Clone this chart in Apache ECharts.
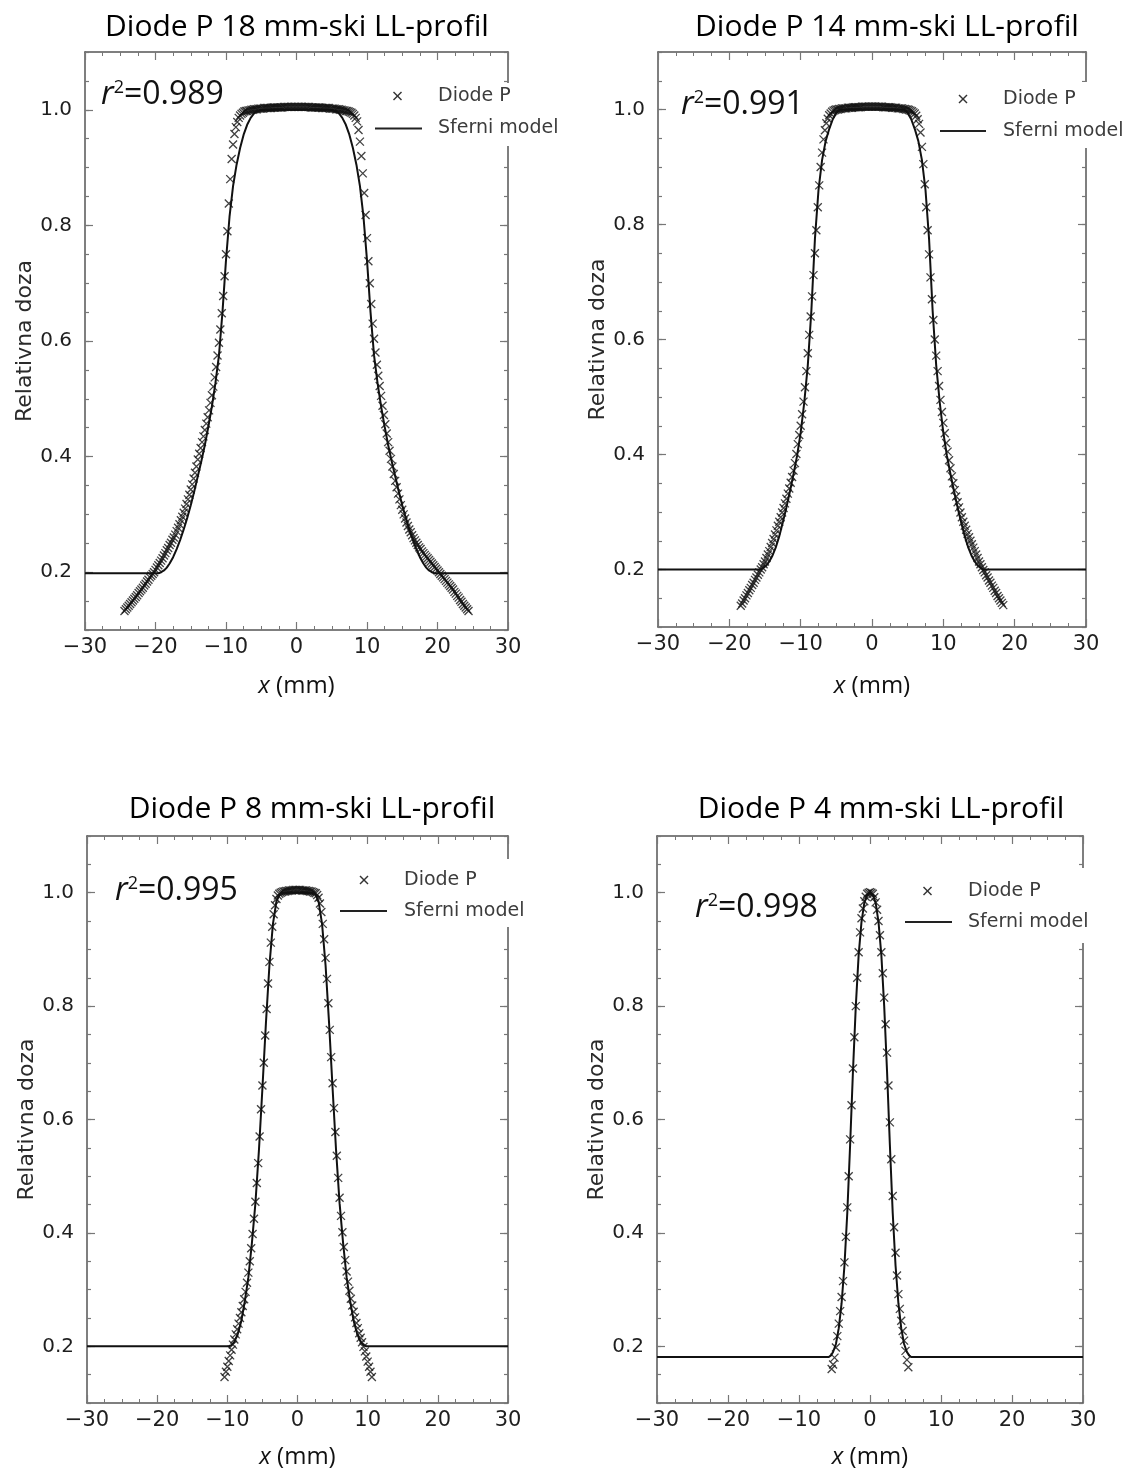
<!DOCTYPE html>
<html><head><meta charset="utf-8">
<script src="https://cdn.jsdelivr.net/npm/echarts@6/dist/echarts.min.js"></script>
<style>html,body{margin:0;padding:0;background:#fff}#c{width:1126px;height:1470px}</style>
</head><body><div id="c"></div>
<script>
// ---------- data ----------
const panelTitles = ['Diode P 18 mm-ski LL-profil','Diode P 14 mm-ski LL-profil','Diode P 8 mm-ski LL-profil','Diode P 4 mm-ski LL-profil'];
const r2Values = ['0.989','0.991','0.995','0.998'];
const seriesNames = ['Diode P','Sferni model'];
const yMajorTicks = [0.2,0.4,0.6,0.8,1.0];

const diode18 = [[-24.4,0.133],[-24.2,0.136],[-24.0,0.139],[-23.8,0.142],[-23.6,0.145],[-23.4,0.148],[-23.2,0.151],[-23.0,0.154],[-22.8,0.157],[-22.6,0.160],[-22.4,0.164],[-22.2,0.167],[-22.0,0.170],[-21.8,0.173],[-21.6,0.177],[-21.4,0.180],[-21.2,0.184],[-21.0,0.187],[-20.8,0.191],[-20.6,0.194],[-20.4,0.197],[-20.2,0.200],[-20.0,0.204],[-19.8,0.208],[-19.6,0.212],[-19.4,0.216],[-19.2,0.220],[-19.0,0.224],[-18.8,0.229],[-18.6,0.233],[-18.4,0.238],[-18.2,0.242],[-18.0,0.247],[-17.8,0.251],[-17.6,0.256],[-17.4,0.260],[-17.2,0.265],[-17.0,0.271],[-16.8,0.277],[-16.6,0.283],[-16.4,0.290],[-16.2,0.296],[-16.0,0.303],[-15.8,0.310],[-15.6,0.318],[-15.4,0.326],[-15.2,0.334],[-15.0,0.343],[-14.8,0.352],[-14.6,0.362],[-14.4,0.372],[-14.2,0.383],[-14.0,0.395],[-13.8,0.405],[-13.6,0.415],[-13.4,0.425],[-13.2,0.435],[-13.0,0.446],[-12.8,0.457],[-12.6,0.468],[-12.4,0.480],[-12.2,0.493],[-12.0,0.506],[-11.8,0.521],[-11.6,0.537],[-11.4,0.555],[-11.2,0.575],[-11.0,0.597],[-10.8,0.620],[-10.6,0.648],[-10.4,0.678],[-10.2,0.712],[-10.0,0.750],[-9.8,0.790],[-9.6,0.838],[-9.4,0.880],[-9.2,0.915],[-9.0,0.940],[-8.8,0.958],[-8.6,0.970],[-8.4,0.979],[-8.2,0.986],[-8.0,0.990],[-7.8,0.993],[-7.6,0.995],[-7.4,0.997],[-7.2,0.998],
[-7.0,0.998],[-6.8,0.999],[-6.6,0.999],[-6.4,1.000],[-6.2,1.000],[-6.0,1.001],[-5.8,1.001],[-5.6,1.001],[-5.4,1.002],[-5.2,1.002],[-5.0,1.002],[-4.8,1.002],[-4.6,1.003],[-4.4,1.003],[-4.2,1.003],[-4.0,1.003],[-3.8,1.003],[-3.6,1.003],[-3.4,1.004],[-3.2,1.004],[-3.0,1.004],[-2.8,1.004],[-2.6,1.004],[-2.4,1.004],[-2.2,1.004],[-2.0,1.004],[-1.8,1.005],[-1.6,1.005],[-1.4,1.005],[-1.2,1.005],[-1.0,1.005],[-0.8,1.005],[-0.6,1.005],[-0.4,1.005],[-0.2,1.005],[0.0,1.005],[0.2,1.005],[0.4,1.005],[0.6,1.005],[0.8,1.005],[1.0,1.005],[1.2,1.005],[1.4,1.005],[1.6,1.005],[1.8,1.005],[2.0,1.004],[2.2,1.004],[2.4,1.004],[2.6,1.004],[2.8,1.004],[3.0,1.004],[3.2,1.004],[3.4,1.004],[3.6,1.003],[3.8,1.003],[4.0,1.003],[4.2,1.003],[4.4,1.003],[4.6,1.003],[4.8,1.002],[5.0,1.002],[5.2,1.002],[5.4,1.002],[5.6,1.001],[5.8,1.001],[6.0,1.001],[6.2,1.000],[6.4,1.000],[6.6,0.999],[6.8,0.999],[7.0,0.998],
[7.2,0.998],[7.4,0.997],[7.6,0.996],[7.8,0.995],[8.0,0.993],[8.2,0.990],[8.4,0.986],[8.6,0.980],[8.8,0.965],[9.0,0.945],[9.2,0.920],[9.4,0.890],[9.6,0.856],[9.8,0.818],[10.0,0.778],[10.2,0.738],[10.4,0.700],[10.6,0.664],[10.8,0.630],[11.0,0.604],[11.2,0.580],[11.4,0.559],[11.6,0.540],[11.8,0.522],[12.0,0.505],[12.2,0.488],[12.4,0.472],[12.6,0.456],[12.8,0.440],[13.0,0.425],[13.2,0.410],[13.4,0.396],[13.6,0.383],[13.8,0.370],[14.0,0.358],[14.2,0.347],[14.4,0.336],[14.6,0.326],[14.8,0.316],[15.0,0.308],[15.2,0.300],[15.4,0.293],[15.6,0.286],[15.8,0.280],[16.0,0.274],[16.2,0.269],[16.4,0.264],[16.6,0.259],[16.8,0.255],[17.0,0.251],[17.2,0.247],[17.4,0.243],[17.6,0.240],[17.8,0.236],[18.0,0.233],[18.2,0.230],[18.4,0.227],[18.6,0.224],[18.8,0.221],[19.0,0.218],[19.2,0.215],[19.4,0.212],[19.6,0.209],[19.8,0.206],[20.0,0.203],[20.2,0.200],[20.4,0.197],[20.6,0.194],[20.8,0.191],[21.0,0.188],[21.2,0.185],[21.4,0.182],[21.6,0.179],[21.8,0.176],[22.0,0.173],[22.2,0.170],[22.4,0.166],[22.6,0.163],[22.8,0.159],[23.0,0.156],[23.2,0.152],[23.4,0.149],[23.6,0.145],[23.8,0.142],[24.0,0.139],[24.2,0.136],[24.4,0.133]];

const model18 = [[-30,0.198],[-19.6,0.198],[-19.2,0.200],[-18.8,0.203],[-18.4,0.208],[-18.0,0.215],[-17.5,0.226],[-17.0,0.240],[-16.5,0.256],[-16.0,0.274],[-15.5,0.294],[-15.0,0.316],[-14.5,0.340],[-14.0,0.366],[-13.5,0.392],[-13.0,0.420],[-12.5,0.452],[-12.0,0.487],[-11.5,0.527],[-11.0,0.575],[-10.5,0.650],[-10.0,0.740],[-9.5,0.815],[-9.0,0.868],[-8.5,0.905],[-8.0,0.934],[-7.5,0.957],[-7.0,0.974],[-6.5,0.986],[-6.0,0.994],[-5.5,0.998],[-5.0,1.000],[5.0,1.000],[5.5,0.998],[6.0,0.994],[6.5,0.986],[7.0,0.974],[7.5,0.957],[8.0,0.934],[8.5,0.905],[9.0,0.868],[9.5,0.815],[10.0,0.740],[10.5,0.650],[11.0,0.575],[11.5,0.527],[12.0,0.487],[12.5,0.452],[13.0,0.420],[13.5,0.392],[14.0,0.366],[14.5,0.340],[15.0,0.316],[15.5,0.294],[16.0,0.274],[16.5,0.256],[17.0,0.240],[17.5,0.226],[18.0,0.215],[18.4,0.208],[18.8,0.203],[19.2,0.200],[19.6,0.198],[30,0.198]];

const diode14 = [[-18.4,0.137],[-18.2,0.141],[-18.0,0.146],[-17.8,0.150],[-17.6,0.155],[-17.4,0.159],[-17.2,0.164],[-17.0,0.168],[-16.8,0.173],[-16.6,0.177],[-16.4,0.182],[-16.2,0.186],[-16.0,0.191],[-15.8,0.195],[-15.6,0.200],[-15.4,0.204],[-15.2,0.209],[-15.0,0.214],[-14.8,0.220],[-14.6,0.226],[-14.4,0.232],[-14.2,0.239],[-14.0,0.246],[-13.8,0.253],[-13.6,0.261],[-13.4,0.268],[-13.2,0.276],[-13.0,0.283],[-12.8,0.291],[-12.6,0.299],[-12.4,0.307],[-12.2,0.315],[-12.0,0.323],[-11.8,0.332],[-11.6,0.341],[-11.4,0.351],[-11.2,0.361],[-11.0,0.372],[-10.8,0.385],[-10.6,0.401],[-10.4,0.418],[-10.2,0.434],[-10.0,0.450],[-9.8,0.470],[-9.6,0.492],[-9.4,0.517],[-9.2,0.545],[-9.0,0.576],[-8.8,0.608],[-8.6,0.640],[-8.4,0.675],[-8.2,0.712],[-8.0,0.750],[-7.8,0.790],[-7.6,0.830],[-7.4,0.868],[-7.2,0.900],[-7.0,0.925],[-6.8,0.948],[-6.6,0.964],[-6.4,0.976],[-6.2,0.984],[-6.0,0.990],[-5.8,0.993],[-5.6,0.996],[-5.4,0.998],
[-5.2,0.999],[-5.0,1.000],[-4.8,1.000],[-4.6,1.001],[-4.4,1.001],[-4.2,1.002],[-4.0,1.002],[-3.8,1.002],[-3.6,1.002],[-3.4,1.003],[-3.2,1.003],[-3.0,1.003],[-2.8,1.003],[-2.6,1.004],[-2.4,1.004],[-2.2,1.004],[-2.0,1.004],[-1.8,1.004],[-1.6,1.004],[-1.4,1.005],[-1.2,1.005],[-1.0,1.005],[-0.8,1.005],[-0.6,1.005],[-0.4,1.005],[-0.2,1.005],[0.0,1.005],[0.2,1.005],[0.4,1.005],[0.6,1.005],[0.8,1.005],[1.0,1.005],[1.2,1.005],[1.4,1.005],[1.6,1.004],[1.8,1.004],[2.0,1.004],[2.2,1.004],[2.4,1.004],[2.6,1.004],[2.8,1.003],[3.0,1.003],[3.2,1.003],[3.4,1.003],[3.6,1.002],[3.8,1.002],[4.0,1.002],[4.2,1.002],[4.4,1.001],[4.6,1.001],[4.8,1.000],[5.0,1.000],[5.2,0.999],
[5.4,0.998],[5.6,0.997],[5.8,0.995],[6.0,0.993],[6.2,0.989],[6.4,0.983],[6.6,0.975],[6.8,0.960],[7.0,0.935],[7.2,0.905],[7.4,0.870],[7.6,0.830],[7.8,0.790],[8.0,0.748],[8.2,0.708],[8.4,0.670],[8.6,0.634],[8.8,0.600],[9.0,0.572],[9.2,0.545],[9.4,0.519],[9.6,0.495],[9.8,0.474],[10.0,0.455],[10.2,0.437],[10.4,0.420],[10.6,0.405],[10.8,0.390],[11.0,0.376],[11.2,0.362],[11.4,0.350],[11.6,0.338],[11.8,0.327],[12.0,0.317],[12.2,0.308],[12.4,0.299],[12.6,0.291],[12.8,0.283],[13.0,0.276],[13.2,0.269],[13.4,0.262],[13.6,0.256],[13.8,0.250],[14.0,0.244],[14.2,0.238],[14.4,0.232],[14.6,0.226],[14.8,0.220],[15.0,0.214],[15.2,0.209],[15.4,0.204],[15.6,0.199],[15.8,0.195],[16.0,0.190],[16.2,0.186],[16.4,0.181],[16.6,0.177],[16.8,0.172],[17.0,0.168],[17.2,0.163],[17.4,0.159],[17.6,0.154],[17.8,0.150],[18.0,0.146],[18.2,0.142],[18.4,0.138]];

const model14 = [[-30,0.200],[-15.6,0.200],[-15.2,0.203],[-14.8,0.207],[-14.4,0.214],[-14.0,0.223],[-13.5,0.238],[-13.0,0.258],[-12.5,0.282],[-12.0,0.308],[-11.5,0.336],[-11.0,0.366],[-10.5,0.398],[-10.0,0.438],[-9.5,0.490],[-9.0,0.555],[-8.5,0.650],[-8.0,0.775],[-7.5,0.860],[-7.0,0.912],[-6.5,0.945],[-6.0,0.966],[-5.5,0.983],[-5.0,0.994],[-4.5,1.000],[4.5,1.000],[5.0,0.994],[5.5,0.983],[6.0,0.966],[6.5,0.945],[7.0,0.912],[7.5,0.860],[8.0,0.775],[8.5,0.650],[9.0,0.555],[9.5,0.490],[10.0,0.438],[10.5,0.398],[11.0,0.366],[11.5,0.336],[12.0,0.308],[12.5,0.282],[13.0,0.258],[13.5,0.238],[14.0,0.223],[14.4,0.214],[14.8,0.207],[15.2,0.203],[15.6,0.200],[30,0.200]];

const diode8 = [[-10.4,0.146],[-10.2,0.155],[-10.0,0.164],[-9.8,0.174],[-9.6,0.184],[-9.4,0.194],[-9.2,0.203],[-9.0,0.212],[-8.8,0.221],[-8.6,0.230],[-8.4,0.240],[-8.2,0.250],[-8.0,0.260],[-7.8,0.271],[-7.6,0.283],[-7.4,0.296],[-7.2,0.312],[-7.0,0.330],[-6.8,0.350],[-6.6,0.373],[-6.4,0.398],[-6.2,0.425],[-6.0,0.455],[-5.8,0.488],[-5.6,0.523],[-5.4,0.570],[-5.2,0.618],[-5.0,0.660],[-4.8,0.700],[-4.6,0.748],[-4.4,0.795],[-4.2,0.840],[-4.0,0.878],[-3.8,0.912],[-3.6,0.940],[-3.4,0.962],[-3.2,0.978],[-3.0,0.989],[-2.8,0.995],[-2.6,0.998],
[-2.4,1.000],[-2.2,1.001],[-2.0,1.002],[-1.8,1.002],[-1.6,1.003],[-1.4,1.003],[-1.2,1.004],[-1.0,1.004],[-0.8,1.004],[-0.6,1.005],[-0.4,1.005],[-0.2,1.005],[0.0,1.005],[0.2,1.005],[0.4,1.005],[0.6,1.004],[0.8,1.004],[1.0,1.004],[1.2,1.004],[1.4,1.003],[1.6,1.003],[1.8,1.002],[2.0,1.002],[2.2,1.001],[2.4,1.000],[2.6,0.999],
[2.8,0.996],[3.0,0.991],[3.2,0.981],[3.4,0.966],[3.6,0.945],[3.8,0.918],[4.0,0.885],[4.2,0.848],[4.4,0.805],[4.6,0.758],[4.8,0.710],[5.0,0.664],[5.2,0.620],[5.4,0.578],[5.6,0.536],[5.8,0.497],[6.0,0.462],[6.2,0.430],[6.4,0.401],[6.6,0.375],[6.8,0.352],[7.0,0.332],[7.2,0.314],[7.4,0.298],[7.6,0.284],[7.8,0.272],[8.0,0.261],[8.2,0.251],[8.4,0.241],[8.6,0.232],[8.8,0.223],[9.0,0.215],[9.2,0.207],[9.4,0.199],[9.6,0.191],[9.8,0.182],[10.0,0.173],[10.2,0.164],[10.4,0.155],[10.6,0.146]];

const model8 = [[-30,0.200],[-9.8,0.200],[-9.4,0.202],[-9.0,0.208],[-8.5,0.222],[-8.0,0.245],[-7.5,0.280],[-7.0,0.322],[-6.5,0.382],[-6.0,0.452],[-5.5,0.545],[-5.0,0.655],[-4.5,0.770],[-4.0,0.872],[-3.5,0.945],[-3.0,0.985],[-2.5,0.998],[-2.0,1.000],[2.0,1.000],[2.5,0.998],[3.0,0.985],[3.5,0.945],[4.0,0.872],[4.5,0.770],[5.0,0.655],[5.5,0.545],[6.0,0.452],[6.5,0.382],[7.0,0.322],[7.5,0.280],[8.0,0.245],[8.5,0.222],[9.0,0.208],[9.4,0.202],[9.8,0.200],[30,0.200]];

const diode4 = [[-5.4,0.160],[-5.2,0.168],[-5.0,0.180],[-4.8,0.198],[-4.6,0.218],[-4.4,0.240],[-4.2,0.262],[-4.0,0.287],[-3.8,0.315],[-3.6,0.348],[-3.4,0.393],[-3.2,0.445],[-3.0,0.500],[-2.8,0.565],[-2.6,0.625],[-2.4,0.690],[-2.2,0.745],[-2.0,0.800],[-1.8,0.850],[-1.6,0.895],[-1.4,0.930],[-1.2,0.955],[-1.0,0.972],[-0.8,0.985],[-0.6,0.993],[-0.4,0.998],[-0.2,1.000],[0.0,1.001],[0.2,1.000],[0.4,0.998],[0.6,0.992],[0.8,0.983],[1.0,0.970],[1.2,0.950],[1.4,0.925],[1.6,0.895],[1.8,0.858],[2.0,0.815],[2.2,0.768],[2.4,0.718],[2.6,0.660],[2.8,0.595],[3.0,0.530],[3.2,0.465],[3.4,0.410],[3.6,0.365],[3.8,0.325],[4.0,0.292],[4.2,0.266],[4.4,0.245],[4.6,0.227],[4.8,0.210],[5.0,0.192],[5.2,0.176],[5.4,0.163]];

const model4 = [[-30,0.181],[-5.8,0.181],[-5.5,0.184],[-5.2,0.190],[-4.8,0.204],[-4.4,0.232],[-4.0,0.276],[-3.6,0.342],[-3.2,0.435],[-2.8,0.555],[-2.4,0.685],[-2.0,0.800],[-1.6,0.890],[-1.2,0.948],[-0.8,0.982],[-0.4,0.996],[0,1.000],[0.4,0.996],[0.8,0.982],[1.2,0.948],[1.6,0.890],[2.0,0.800],[2.4,0.685],[2.8,0.555],[3.2,0.435],[3.6,0.342],[4.0,0.276],[4.4,0.232],[4.8,0.204],[5.2,0.190],[5.5,0.184],[5.8,0.181],[30,0.181]];

// ---------- layout ----------
const layout = [
  {grid:{left:85,top:52,width:423,height:578}, tx:297, titleTop:12, rx:101, ry:95, yGap:43, xGap:44,
   leg:{cx:397.5,tx:438,y1:96,y2:128.5,lx1:375,lx2:422,rect:[366,83,194,63]}},
  {grid:{left:658,top:52,width:428,height:575}, tx:887, titleTop:12, rx:681, ry:105, yGap:43, xGap:47,
   leg:{cx:963,tx:1003,y1:99,y2:131,lx1:940,lx2:986,rect:[932,82,194,66]}},
  {grid:{left:87,top:836,width:421,height:570}, tx:312, titleTop:794, rx:115, ry:891, yGap:42, xGap:42,
   leg:{cx:364,tx:404,y1:880,y2:911,lx1:340,lx2:387,rect:[332,859,200,68]}},
  {grid:{left:657,top:836,width:426,height:570}, tx:881, titleTop:794, rx:695, ry:908, yGap:44, xGap:42,
   leg:{cx:927.5,tx:968,y1:891,y2:922,lx1:905,lx2:952,rect:[897,868,205,75]}}
];
const diodeSets = [diode18, diode14, diode8, diode4];
const modelSets = [model18, model14, model8, model4];

const INK = '#111', AX = '#555', TK = '#777';
const TICKFONT = 'DejaVu Sans', CALFONT = 'Open Sans';
const crossPath = 'path://M0,0L10,10M0,10L10,0';
const minus = v => String(v).replace('-', '\u2212');

const grids = [], xAxes = [], yAxes = [], series = [], titles = [], graphics = [];

layout.forEach((L, i) => {
  grids.push(Object.assign({containLabel:false}, L.grid));
  const baseLine = {show:true, onZero:false, lineStyle:{color:AX, width:1.5}};
  const tick = (len) => ({show:true, inside:true, length:len, lineStyle:{color:TK, width:1.2}});
  xAxes.push({gridIndex:i, type:'value', min:-30, max:30, interval:10, position:'bottom',
    axisLine:baseLine, axisTick:tick(8), minorTick:{show:true, splitNumber:4, length:4, lineStyle:{color:TK, width:1}},
    splitLine:{show:false},
    axisLabel:{formatter:minus, fontFamily:TICKFONT, fontSize:21, color:'#1e1e1e', margin:7},
    name:'{i|x} (mm)', nameLocation:'middle', nameGap:L.xGap,
    nameTextStyle:{fontFamily:CALFONT, fontSize:24, color:'#111', rich:{i:{fontStyle:'italic', fontFamily:CALFONT, fontSize:24, color:'#111'}}}
  });
  xAxes.push({gridIndex:i, type:'value', min:-30, max:30, interval:10, position:'top',
    axisLine:baseLine, axisTick:tick(8), minorTick:{show:true, splitNumber:4, length:4, lineStyle:{color:TK, width:1}},
    splitLine:{show:false}, axisLabel:{show:false}});
  yAxes.push({gridIndex:i, type:'value', min:0.1, max:1.1, position:'left',
    axisLine:baseLine, axisTick:Object.assign(tick(8), {customValues:yMajorTicks}), splitLine:{show:false},
    axisLabel:{customValues:yMajorTicks, formatter:v => v.toFixed(1), fontFamily:TICKFONT, fontSize:20, color:'#1e1e1e', margin:13},
    name:'Relativna doza', nameLocation:'middle', nameRotate:90, nameGap:L.yGap,
    nameTextStyle:{fontFamily:TICKFONT, fontSize:22, color:'#2a2a2a'}});
  yAxes.push({gridIndex:i, type:'value', min:0.1, max:1.1, interval:0.05, position:'left',
    axisLine:{show:false, onZero:false}, axisTick:tick(4), axisLabel:{show:false}, splitLine:{show:false}});
  yAxes.push({gridIndex:i, type:'value', min:0.1, max:1.1, position:'right',
    axisLine:baseLine, axisTick:Object.assign(tick(8), {customValues:yMajorTicks}), splitLine:{show:false}, axisLabel:{show:false}});
  yAxes.push({gridIndex:i, type:'value', min:0.1, max:1.1, interval:0.05, position:'right',
    axisLine:{show:false, onZero:false}, axisTick:tick(4), axisLabel:{show:false}, splitLine:{show:false}});

  series.push({name:seriesNames[0], type:'scatter', xAxisIndex:2*i, yAxisIndex:4*i, data:diodeSets[i],
    symbol:crossPath, symbolSize:8, itemStyle:{color:'rgba(0,0,0,0)', borderColor:INK, borderWidth:1.3}, z:2});
  series.push({name:seriesNames[1], type:'line', xAxisIndex:2*i, yAxisIndex:4*i, data:modelSets[i],
    showSymbol:false, symbol:'none', lineStyle:{color:INK, width:2}, z:3});

  titles.push({text:panelTitles[i], left:L.tx, top:L.titleTop, textAlign:'center', padding:0,
    textStyle:{fontFamily:CALFONT, fontSize:30, fontWeight:'normal', color:'#000'}});

  const g = L.leg;
  graphics.push({type:'rect', shape:{x:g.rect[0], y:g.rect[1], width:g.rect[2], height:g.rect[3]}, style:{fill:'#fff'}, z:50});
  graphics.push({type:'line', shape:{x1:g.cx-4, y1:g.y1-4, x2:g.cx+4, y2:g.y1+4}, style:{stroke:'#333', lineWidth:1.4}, z:51});
  graphics.push({type:'line', shape:{x1:g.cx-4, y1:g.y1+4, x2:g.cx+4, y2:g.y1-4}, style:{stroke:'#333', lineWidth:1.4}, z:51});
  graphics.push({type:'text', x:g.tx, y:g.y1, style:{text:seriesNames[0], fontFamily:TICKFONT, fontSize:19, fill:'#3c3c3c', verticalAlign:'middle', align:'left'}, z:51});
  graphics.push({type:'line', shape:{x1:g.lx1, y1:g.y2, x2:g.lx2, y2:g.y2}, style:{stroke:'#222', lineWidth:2}, z:51});
  graphics.push({type:'text', x:g.tx, y:g.y2, style:{text:seriesNames[1], fontFamily:TICKFONT, fontSize:19, fill:'#3c3c3c', verticalAlign:'middle', align:'left'}, z:51});
  graphics.push({type:'text', x:L.rx, y:L.ry, z:51, style:{
    text:'{r|r}{s|2}{n|=' + r2Values[i] + '}', verticalAlign:'middle', align:'left',
    rich:{r:{fontFamily:CALFONT, fontStyle:'italic', fontSize:32, fill:'#111'},
          s:{fontFamily:CALFONT, fontSize:18, fill:'#111', verticalAlign:'top'},
          n:{fontFamily:CALFONT, fontSize:32, fill:'#111'}}}});
});

const chart = echarts.init(document.getElementById('c'), null, {renderer:'canvas'});
chart.setOption({
  animation:false, backgroundColor:'#fff',
  title:titles, grid:grids, xAxis:xAxes, yAxis:yAxes, series:series, graphic:graphics
});
</script></body></html>
